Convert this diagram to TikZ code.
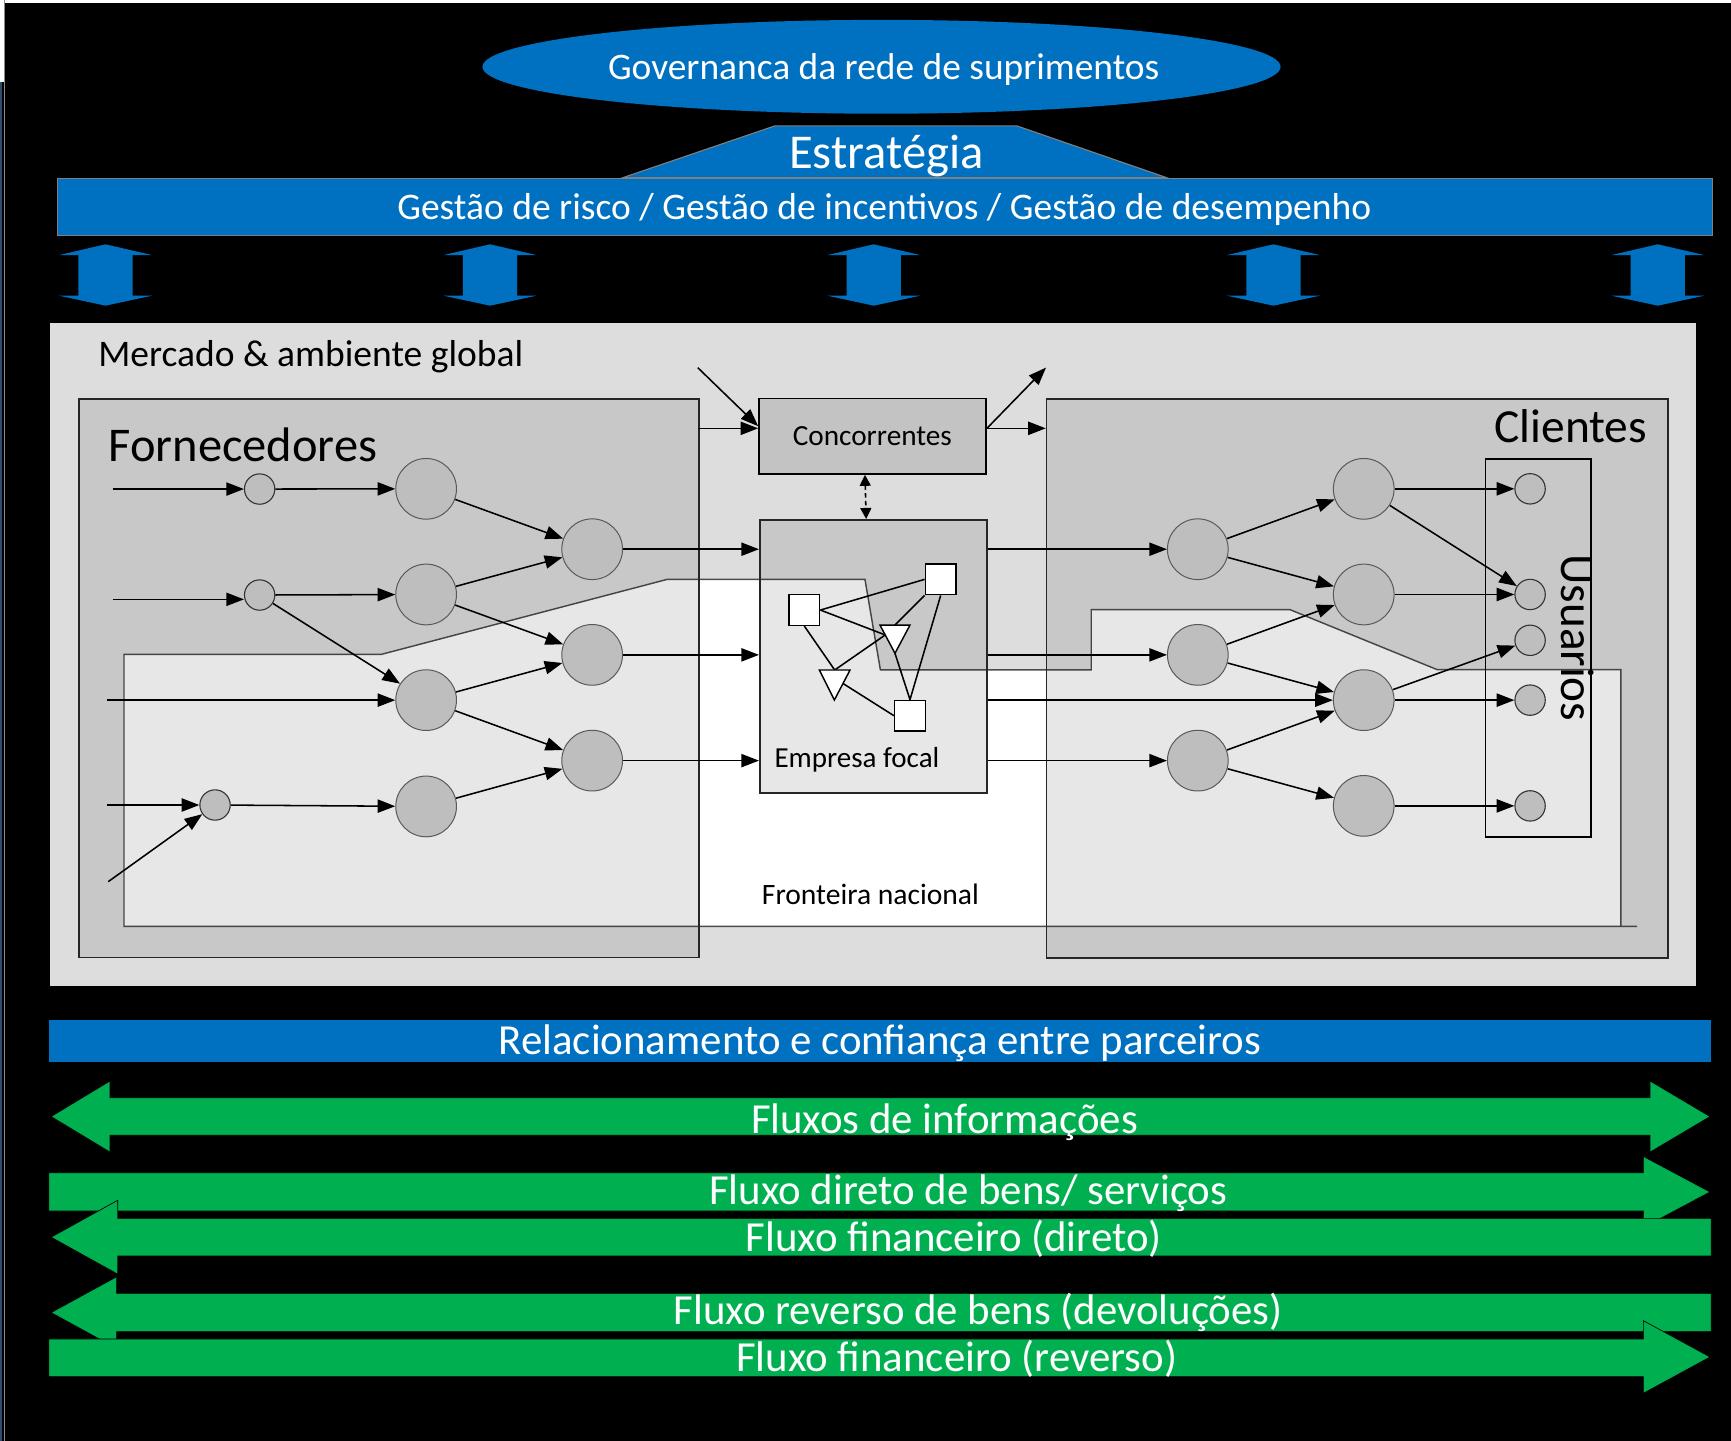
\documentclass[tikz,border=0pt]{standalone}
\usepackage{fontspec}
\setmainfont{Carlito}
\usetikzlibrary{arrows.meta,calc,shapes.geometric}
\definecolor{ublue}{HTML}{0070C0}
\definecolor{ugreen}{HTML}{00B050}
\definecolor{panelgrey}{HTML}{DDDDDD}
\definecolor{hubgrey}{HTML}{BEBEBE}
\definecolor{compgrey}{HTML}{C3C3C3}
\definecolor{edgeblue}{HTML}{2E4D73}
\pgfdeclarelayer{back}
\pgfdeclarelayer{edges}
\pgfsetlayers{back,edges,main}
\newcommand\txtsize[1]{\fontsize{#1pt}{#1pt}\selectfont}

\begin{document}
\begin{tikzpicture}[x=1pt,y=-1pt,
  hub/.style={circle,draw=black!65,line width=0.9pt,fill=hubgrey,minimum size=55pt,inner sep=0pt},
  stopnode/.style={circle,draw=black!80,line width=1pt,fill=hubgrey,minimum size=27.5pt,inner sep=0pt},
  unitbox/.style={rectangle,draw=black,line width=1.3pt,fill=white,minimum size=27.8pt,inner sep=0pt},
  regionbox/.style={rectangle,draw=black!85,line width=1.4pt,fill=black,fill opacity=0.095,draw opacity=1,inner sep=0pt,anchor=north west},
  flow/.style={line width=1.4pt,-{Triangle[length=16pt,width=12pt]}},
  plain/.style={line width=1.4pt},
  lbl/.style={anchor=base,inner sep=0pt},
  whitelbl/.style={lbl,text=white},
  title/.style={anchor=base west,inner sep=0pt},
  greenarrow/.style={fill=ugreen,draw=black,line width=0.6pt},
]
\useasboundingbox (0,0) rectangle (1568,1305);

% ---------- background and frame ----------
\begin{pgfonlayer}{back}
\fill[black] (0,0) rectangle (1568,1305);
\fill[white] (0,0) rectangle (1568,2.4);
\fill[white] (0,0) rectangle (3.6,74);
\fill[edgeblue] (0,74) rectangle (2,1305);
\fill[black!45] (3.6,0) rectangle (4.2,1305);

% market panel
\fill[panelgrey] (45,293) rectangle (1536,893);

% national border region
\fill[white] (112.3,592.7) -- (345.6,592.7) -- (604.4,524.8) -- (783.5,524.8)
  -- (797.5,606.8) -- (988.5,606.8) -- (988.5,552.2) -- (1168.4,552.2)
  -- (1301.9,606.6) -- (1468.2,606.6) -- (1468.2,839.2) -- (112.3,839.2) -- cycle;
\draw[black!70,line width=1.3pt] (1483,839.2) -- (112.3,839.2) -- (112.3,592.7) -- (345.6,592.7)
  -- (604.4,524.8) -- (783.5,524.8) -- (797.5,606.8) -- (988.5,606.8) -- (988.5,552.2)
  -- (1168.4,552.2) -- (1301.9,606.6) -- (1468.2,606.6) -- (1468.2,839.2);

% supplier, customer and focal regions
\node[regionbox,minimum width=561.5pt,minimum height=506pt] (forn) at (71,360.5) {};
\node[regionbox,minimum width=562.8pt,minimum height=506.4pt] (cli) at (947.3,360.5) {};
\node[regionbox,line width=2.2pt,minimum width=205.7pt,minimum height=247pt] (focal) at (687.5,470.1) {};
\node[draw=black,line width=1.3pt,inner sep=0pt,anchor=north west,minimum width=95.6pt,minimum height=342.4pt] (usr) at (1345,415.3) {};
\end{pgfonlayer}

% ---------- governance header ----------
\node[ellipse,fill=ublue,minimum width=723pt,minimum height=85pt,inner sep=0pt] (gov) at (798.5,60.5) {};
\node[whitelbl,font=\txtsize{33.9}] (govtxt) at (800.5,71.6) {Governanca da rede de suprimentos};

\filldraw[fill=ublue,draw=black!50,line width=1pt] (564,161) -- (702,114) -- (921,114) -- (1057,161) -- cycle;
\node[whitelbl,font=\txtsize{44}] (strtxt) at (803,152.5) {Estratégia};

\node[fill=ublue,draw=black!50,line width=1pt,inner sep=0pt,anchor=north west,minimum width=1499.6pt,minimum height=52pt] (gest) at (51.4,161) {};
\node[whitelbl,font=\txtsize{34}] (gesttxt) at (801,198.7) {Gestão de risco / Gestão de incentivos / Gestão de desempenho};

\foreach \cx in {95.6,443.9,791.5,1153.5,1501.7} {
  \fill[ublue] (\cx,221.3) -- (\cx+41.9,231) -- (\cx+24.6,231) -- (\cx+24.6,267.9)
    -- (\cx+41.9,267.9) -- (\cx,276.9) -- (\cx-41.9,267.9) -- (\cx-24.6,267.9)
    -- (\cx-24.6,231) -- (\cx-41.9,231) -- cycle;
}

% ---------- region titles ----------
\node[title,font=\txtsize{34}] (mkt) at (88.8,332.2) {Mercado \& ambiente global};
\node[title,font=\txtsize{43.9}] (forntxt) at (98.2,418.2) {Fornecedores};
\node[anchor=base east,inner sep=0pt,font=\txtsize{43}] (clitxt) at (1492.2,400.5) {Clientes};
\node[rotate=-90,anchor=base west,inner sep=0pt,font=\txtsize{42.8}] (usrtxt) at (1414,502) {Usuarios};
\node[lbl,font=\txtsize{26.8}] (border) at (788.5,819) {Fronteira nacional};

% ---------- competitors and focal firm ----------
\node[draw=black,fill=compgrey,line width=1.4pt,minimum width=205.7pt,minimum height=68.6pt,inner sep=0pt] (comp) at (790.35,395.1) {};
\node[lbl,font=\txtsize{26.5}] (comptxt) at (790.2,404) {Concorrentes};
\node[title,font=\txtsize{26.3}] (focaltxt) at (701.4,695.4) {Empresa focal};

\node[unitbox] (sq1) at (728.6,552.6) {};
\node[unitbox] (sq2) at (852.1,524.8) {};
\node[unitbox] (sq3) at (824.3,648.3) {};
\coordinate (t1a) at (797.1,566.2);
\coordinate (t1b) at (824.3,566.2);
\coordinate (t1c) at (810.7,591.8);
\coordinate (t2a) at (742.2,606.9);
\coordinate (t2b) at (770,606.9);
\coordinate (t2c) at (755.8,634.1);
\filldraw[fill=white,draw=black,line width=1.3pt] (t1a) -- (t1b) -- (t1c) -- cycle;
\filldraw[fill=white,draw=black,line width=1.3pt] (t2a) -- (t2b) -- (t2c) -- cycle;

% ---------- supplier network ----------
\node[stopnode] (fs1) at (235.2,443) {};
\node[stopnode] (fs2) at (235.2,539) {};
\node[stopnode] (fs3) at (194.8,729.2) {};
\node[hub] (fb1) at (386,442.8) {};
\node[hub] (fb2) at (386,538.5) {};
\node[hub] (fb3) at (386,634.2) {};
\node[hub] (fb4) at (386,730.5) {};
\node[hub] (fc1) at (536.4,497.5) {};
\node[hub] (fc2) at (536.4,593.2) {};
\node[hub] (fc3) at (536.4,689) {};

% ---------- customer network ----------
\node[hub] (ca1) at (1085,497.5) {};
\node[hub] (ca2) at (1085,593.2) {};
\node[hub] (ca3) at (1085,689) {};
\node[hub] (cb1) at (1235.3,442.8) {};
\node[hub] (cb2) at (1235.3,538.5) {};
\node[hub] (cb3) at (1235.3,634.2) {};
\node[hub] (cb4) at (1235.3,730) {};
\node[stopnode] (cu1) at (1386,442.8) {};
\node[stopnode] (cu2) at (1386,538.5) {};
\node[stopnode] (cu3) at (1386,580) {};
\node[stopnode] (cu4) at (1386,634.2) {};
\node[stopnode] (cu5) at (1386,730) {};

% free ends of incoming and outgoing links
\coordinate (in1) at (102.2,443);
\coordinate (in2) at (102.2,542.9);
\coordinate (in3) at (96.9,634.2);
\coordinate (in4) at (96.9,729.2);
\coordinate (in5) at (98.1,798.6);
\coordinate (cin1) at (632.5,388);
\coordinate (cin2) at (632,333);
\coordinate (cout1) at (947.3,388);
\coordinate (cout2) at (947.5,333);

\begin{pgfonlayer}{edges}
% suppliers
\draw[flow] (in1) -- (fs1);
\draw[flow] (in2) -- (in2 -| fs2.west);
\draw[flow] (in3) -- (fb3);
\draw[flow] (in4) -- (fs3);
\draw[flow] (in5) -- (fs3);
\draw[flow] (fs1) -- (fb1);
\draw[flow] (fs2) -- (fb2);
\draw[flow] (fs2) -- (fb3);
\draw[flow] (fs3) -- (fb4);
\draw[flow] (fb1) -- (fc1);
\draw[flow] (fb2) -- (fc1);
\draw[flow] (fb2) -- (fc2);
\draw[flow] (fb3) -- (fc2);
\draw[flow] (fb3) -- (fc3);
\draw[flow] (fb4) -- (fc3);
\draw[flow] (fc1) -- (fc1 -| focal.west);
\draw[flow] (fc2) -- (fc2 -| focal.west);
\draw[flow] (fc3) -- (fc3 -| focal.west);
% competitors
\draw[flow] (cin1) -- (cin1 -| comp.west);
\draw[flow] (cin2) -- ([yshift=9pt]comp.west);
\draw[flow] (cout1 -| comp.east) -- (cout1);
\draw[flow] ([yshift=7pt]comp.east) -- (cout2);
\draw[dash pattern=on 4pt off 3pt,line width=1.4pt,{Triangle[length=10pt,width=10pt]}-{Triangle[length=10pt,width=10pt]}]
  ($(comp.south)+(-6.85,0)$) -- ($(focal.north)+(-6.85,0)$);
% focal firm internals
\draw[plain] (sq1.east) -- (sq2.west);
\draw[plain] (sq1.east) -- ($(t1a)!0.35!(t1c)$);
\draw[plain] (sq1.south) -- ($(t2a)!0.5!(t2b)$);
\draw[plain] ($(t2a)!0.5!(t2b)$) -- ($(t1a)!0.35!(t1c)$);
\draw[plain] ($(t1a)!0.5!(t1b)$) -- (sq2.south west);
\draw[plain] (t1c) -- (sq3.north);
\draw[plain] (sq2.south) -- (sq3.north);
\draw[plain] (sq3.west) -- ($(t2b)!0.45!(t2c)$);
% customers
\draw[flow] (focal.east |- ca1) -- (ca1);
\draw[flow] (focal.east |- ca2) -- (ca2);
\draw[flow] (focal.east |- ca3) -- (ca3);
\draw[flow] (focal.east |- cb3) -- (cb3);
\draw[flow] (ca1) -- (cb1);
\draw[flow] (ca1) -- (cb2);
\draw[flow] (ca2) -- (cb2);
\draw[flow] (ca2) -- (cb3);
\draw[flow] (ca3) -- (cb3);
\draw[flow] (ca3) -- (cb4);
\draw[flow] (cb1) -- (cu1);
\draw[flow] (cb1) -- (cu2);
\draw[flow] (cb2) -- (cu2);
\draw[flow] (cb3) -- (cu3);
\draw[flow] (cb3) -- (cu4);
\draw[flow] (cb4) -- (cu5);
\end{pgfonlayer}

% ---------- partnership bar and flows ----------
\node[fill=ublue,inner sep=0pt,anchor=north west,minimum width=1505.8pt,minimum height=38.7pt] (rel) at (44.2,923.3) {};
\node[whitelbl,font=\txtsize{38.8}] (reltxt) at (797,955) {Relacionamento e confiança entre parceiros};

\filldraw[greenarrow] (46.3,1011.4) -- (99.6,979.2) -- (99.6,994.3) -- (1494.7,994.3) -- (1494.7,979.2)
  -- (1549,1011.4) -- (1494.7,1043.6) -- (1494.7,1028.4) -- (99.6,1028.4) -- (99.6,1043.6) -- cycle;
\node[whitelbl,font=\txtsize{38.8}] (f1) at (855.5,1026.5) {Fluxos de informações};

\filldraw[greenarrow] (44.2,1062.3) -- (1488.6,1062.3) -- (1488.6,1047.5) -- (1549,1079.7)
  -- (1488.6,1111.9) -- (1488.6,1097) -- (44.2,1097) -- cycle;
\node[whitelbl,font=\txtsize{38.8}] (f2) at (877,1091.5) {Fluxo direto de bens/ serviços};

\filldraw[greenarrow] (1550,1103.6) -- (106.7,1103.6) -- (106.7,1087.2) -- (46.3,1120.7)
  -- (106.7,1154.2) -- (106.7,1137.7) -- (1550,1137.7) -- cycle;
\node[whitelbl,font=\txtsize{38.8}] (f3) at (864,1133.8) {Fluxo financeiro (direto)};

\filldraw[greenarrow] (1550,1171.5) -- (105.7,1171.5) -- (105.7,1156.5) -- (46.3,1189)
  -- (105.7,1221.5) -- (105.7,1206.3) -- (1550,1206.3) -- cycle;
\node[whitelbl,font=\txtsize{38.8}] (f4) at (886,1200.2) {Fluxo reverso de bens (devoluções)};

\filldraw[greenarrow] (44.2,1212.9) -- (1488.6,1212.9) -- (1488.6,1196.3) -- (1549,1229.2)
  -- (1488.6,1262.1) -- (1488.6,1247) -- (44.2,1247) -- cycle;
\node[whitelbl,font=\txtsize{38.8}] (f5) at (866.5,1242.5) {Fluxo financeiro (reverso)};
\end{tikzpicture}
\end{document}
